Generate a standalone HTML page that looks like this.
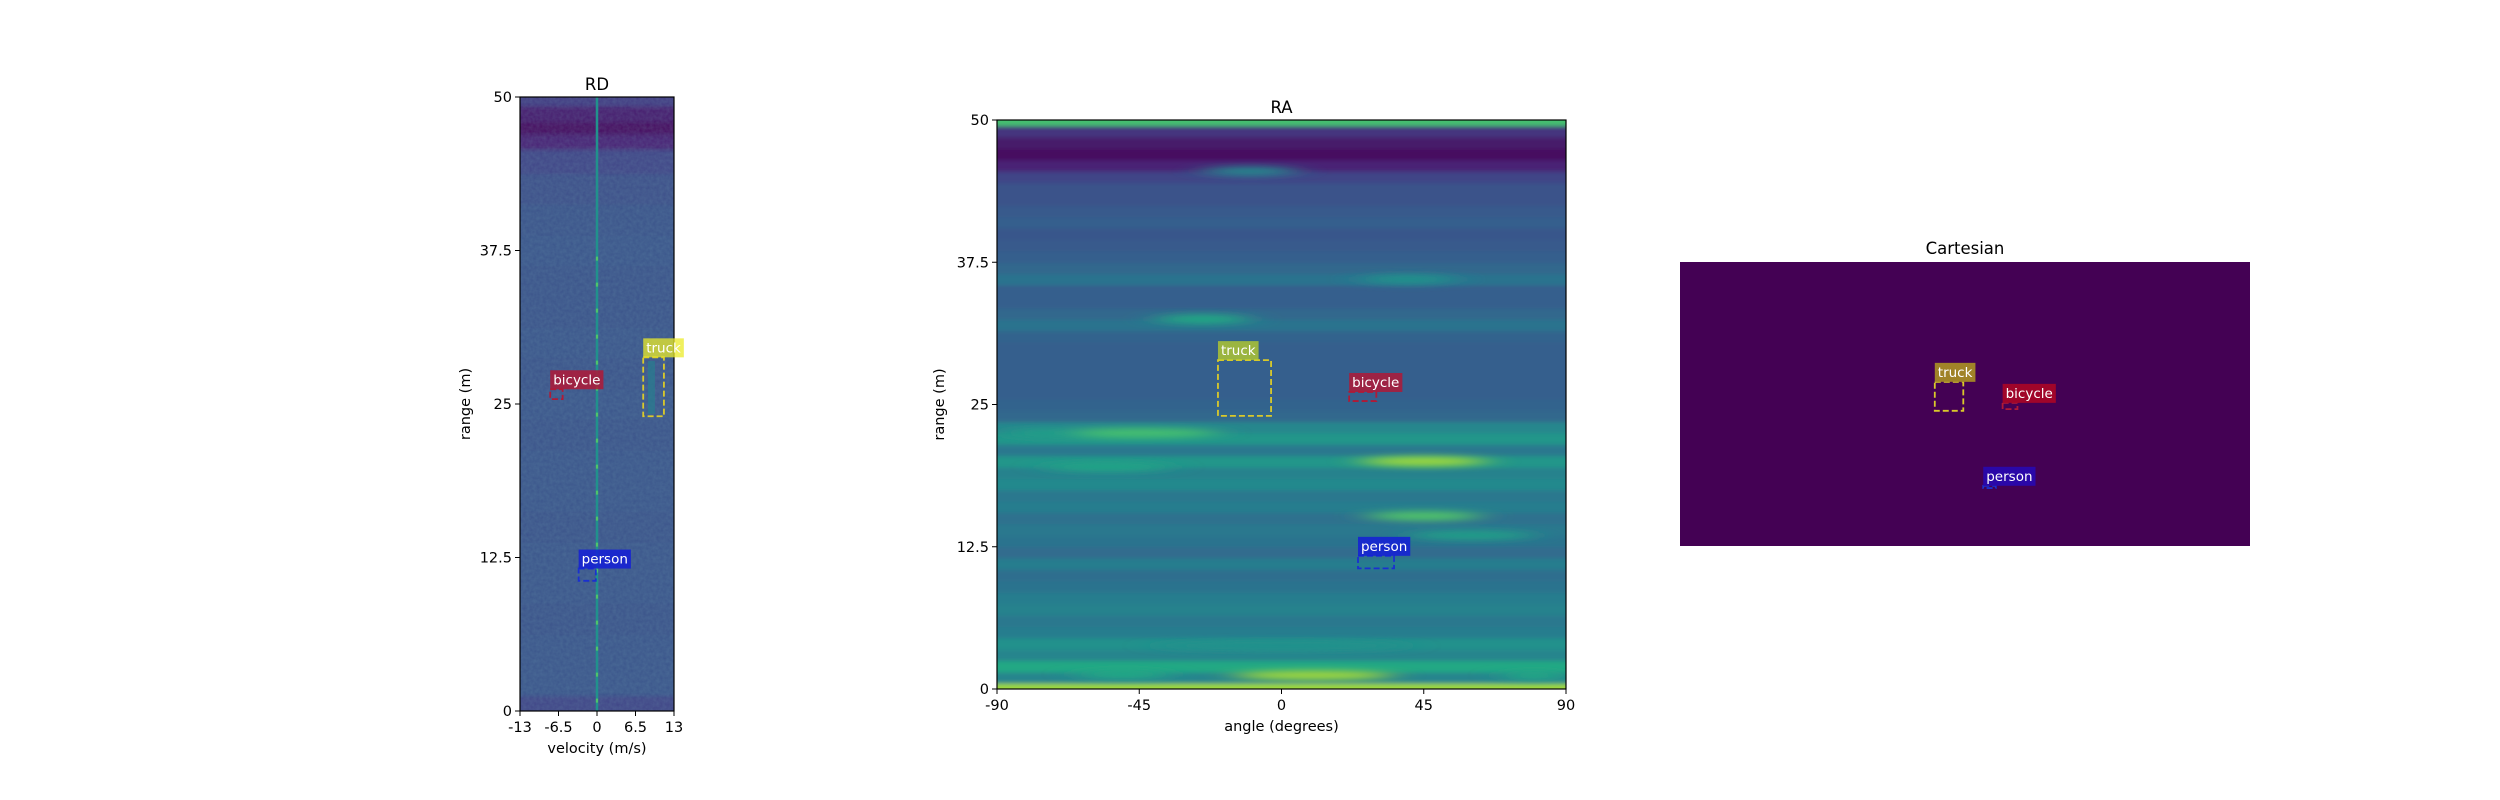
<!DOCTYPE html>
<html><head><meta charset="utf-8">
<style>
html,body{margin:0;padding:0;background:#fff;}
svg{display:block;font-family:"DejaVu Sans","Liberation Sans",sans-serif;}
</style></head>
<body>
<svg id="fig" width="2500" height="800" viewBox="0 0 2500 800" xmlns="http://www.w3.org/2000/svg">
<defs>
<filter id="blur" x="-50%" y="-200%" width="200%" height="500%"><feGaussianBlur stdDeviation="16 3.5"/></filter>
<filter id="vblur"><feGaussianBlur stdDeviation="0 2"/></filter>
<filter id="noise" x="0" y="0" width="100%" height="100%"><feTurbulence type="fractalNoise" baseFrequency="0.3" numOctaves="2" seed="3"/><feColorMatrix type="matrix" values="0 0 0 0 0.2  0 0 0 0 0.45  0 0 0 0 0.5  0 0 0 0.22 0"/></filter>
<clipPath id="clipRD"><rect x="520" y="97" width="154" height="614"/></clipPath>
<clipPath id="clipRA"><rect x="997" y="120" width="569" height="569"/></clipPath>
</defs>
<g id="root"></g>
</svg>
<script>
// ---------- data ----------
const rdRanges = [0,2.5,5,7.5,10,12.5,15,17.5,20,22.5,25,27.5,30,32.5,35,37.5,40,42.5,45,46.5,47.5,48.5,50];
const rdLevels = [0.2,0.26,0.26,0.25,0.26,0.26,0.25,0.26,0.26,0.25,0.26,0.25,0.26,0.25,0.25,0.26,0.25,0.24,0.2,0.1,0.04,0.08,0.17];
const rdVelTicks = [-13,-6.5,0,6.5,13];
const rangeTicks = [0,12.5,25,37.5,50];
const rangeTickLabels = ["0","12.5","25","37.5","50"];
const raProfile = [0.85,0.45,0.6,0.45,0.5,0.42,0.4,0.44,0.42,0.38,0.36,0.42,0.35,0.38,0.4,0.37,0.42,0.4,0.47,0.44,0.52,0.4,0.52,0.46,0.33,0.32,0.3,0.3,0.3,0.3,0.3,0.32,0.38,0.33,0.3,0.3,0.38,0.33,0.3,0.28,0.27,0.3,0.28,0.25,0.25,0.2,0.1,0.04,0.07,0.15,0.7];
const raBlobAngle = [45,-45,-25,45,40,10,-55,60,-10,-50,80,-75,0];
const raBlobRange = [20,22.5,32.5,15.2,36,1.2,19.5,13.5,45.5,1.3,1.2,22.5,3.8];
const raBlobWidth = [20,25,15,18,15,25,20,20,15,15,10,12,40];
const raBlobValue = [0.85,0.7,0.6,0.72,0.5,0.85,0.58,0.55,0.45,0.6,0.6,0.55,0.5];
const angleTicks = [-90,-45,0,45,90];
const labels = ["truck","bicycle","person"];
const rdBoxes = [[7.8,11.3,24.0,28.8],[-7.9,-5.8,25.4,26.2],[-3.1,-0.2,10.6,11.6]];
const raBoxes = [[-20.1,-3.3,24.0,28.9],[21.4,30,25.3,26.1],[24.2,35.6,10.6,11.7]];
const cartBoxes = [[-5.3,-0.3,23.8,28.9],[6.6,9.2,24.1,25.2],[3.2,5.4,10.2,10.6]];

// ---------- helpers ----------
const NS="http://www.w3.org/2000/svg";
const root=document.getElementById('root');
function el(tag,attrs,parent){const e=document.createElementNS(NS,tag);for(const k in attrs)e.setAttribute(k,attrs[k]);(parent||root).appendChild(e);return e;}
const vstops=[[68,1,84],[72,36,117],[65,68,135],[53,95,141],[42,120,142],[33,145,140],[34,168,132],[68,191,112],[122,209,81],[189,223,38],[253,231,37]];
function viridis(t){t=Math.max(0,Math.min(1,t))*10;const i=Math.min(9,Math.floor(t)),f=t-i;const a=vstops[i],b=vstops[i+1];return `rgb(${Math.round(a[0]+(b[0]-a[0])*f)},${Math.round(a[1]+(b[1]-a[1])*f)},${Math.round(a[2]+(b[2]-a[2])*f)})`;}
function lin(d0,d1,r0,r1){return v=>r0+(v-d0)/(d1-d0)*(r1-r0);}
const boxColors=["#d9c92a","#b01a36","#1a30d0"];
const rdLabelBg=["rgba(235,235,40,0.75)","rgba(175,25,55,0.85)","rgba(20,30,215,0.85)"];
const raLabelBg=["rgba(190,210,40,0.75)","rgba(175,25,55,0.85)","rgba(20,30,215,0.85)"];
const cartLabelBg=["#a08328","#a0052a","#2a08a8"];
const TICK=14.5, TITLE=16.5, LAB=13.5;

function txt(x,y,s,size,anchor,name,extra){const t=el('text',Object.assign({x:x,y:y,'font-size':size,'text-anchor':anchor||'middle',fill:'#000'},extra||{}));t.textContent=s;return t;}
function axesFrame(x0,y0,w,h,name){const r=el('rect',{x:x0,y:y0,width:w,height:h,fill:'none',stroke:'#000','stroke-width':1.2});}
function yAxis(x0,ys,name){rangeTicks.forEach((v,i)=>{const y=ys(v);const l=el('line',{x1:x0-5,x2:x0,y1:y,y2:y,stroke:'#000'});txt(x0-8,y+5,rangeTickLabels[i],TICK,'end',name+'-tick-label');});}
function xAxis(vals,xs,yb,name){vals.forEach(v=>{const x=xs(v);const l=el('line',{x1:x,x2:x,y1:yb,y2:yb+5,stroke:'#000'});txt(x,yb+21,String(v),TICK,'middle',name+'-tick-label');});}
function drawBoxes(boxes,xs,ys,bg,name){boxes.forEach((b,i)=>{const x=xs(b[0]),x2=xs(b[1]),yt=ys(b[3]),yb=ys(b[2]);
 const r=el('rect',{x:x,y:yt,width:Math.max(2,x2-x),height:Math.max(2,yb-yt),fill:'none',stroke:boxColors[i],'stroke-width':1.8,'stroke-dasharray':'6 3'});
 
 const lb=el('rect',{x:x,y:yt-19,width:10,height:19,fill:bg[i]});
 
 const t=txt(x+3,yt-5,labels[i],LAB,'start',name+'-label-'+labels[i],{fill:'#fff'});
 let w=labels[i].length*7.4;try{w=t.getComputedTextLength();}catch(e){}
 lb.setAttribute('width',w+6);});}

// ---------- RD ----------
(function(){
 const X0=520,X1=674,Y0=97,Y1=711;
 const xs=lin(-13,13,X0,X1), ys=lin(0,50,Y1,Y0);
 const g=el('g',{'clip-path':'url(#clipRD)'});
 const gb=el('g',{filter:'url(#vblur)'},g);
 for(let i=0;i<rdRanges.length;i++){
  const lo=i===0?rdRanges[0]-1:(rdRanges[i-1]+rdRanges[i])/2;
  const hi=i===rdRanges.length-1?rdRanges[i]+1:(rdRanges[i]+rdRanges[i+1])/2;
  const r=el('rect',{x:X0,y:ys(hi),width:X1-X0,height:ys(lo)-ys(hi)+0.5,fill:viridis(rdLevels[i])},gb);
  
 }
 const n=el('rect',{x:X0,y:Y0,width:X1-X0,height:Y1-Y0,filter:'url(#noise)'},g);
 const zl=el('line',{x1:xs(0),x2:xs(0),y1:ys(50),y2:Y1,stroke:viridis(0.5),'stroke-width':2.5},g);
 const zl2=el('line',{x1:xs(0),x2:xs(0),y1:ys(37),y2:Y1,stroke:viridis(0.72),'stroke-width':2.2,'stroke-dasharray':'4 22'},g);
 const tr=el('rect',{x:xs(8.6),y:ys(28.5),width:7,height:ys(24.2)-ys(28.5),fill:viridis(0.42),opacity:0.7},g);
 axesFrame(X0,Y0,X1-X0,Y1-Y0,'rd-axes');
 yAxis(X0,ys,'rd-y');xAxis(rdVelTicks,xs,Y1,'rd-x');
 txt((X0+X1)/2,Y0-7,'RD',TITLE,'middle','rd-title');
 txt((X0+X1)/2,Y1+42,'velocity (m/s)',TICK,'middle','rd-x-title');
 txt(0,0,'range (m)',TICK,'middle','rd-y-title',{transform:`translate(470,${(Y0+Y1)/2}) rotate(-90)`});
 drawBoxes(rdBoxes,xs,ys,rdLabelBg,'rd');
})();

// ---------- RA ----------
(function(){
 const X0=997,X1=1566,Y0=120,Y1=689;
 const xs=lin(-90,90,X0,X1), ys=lin(0,50,Y1,Y0);
 const g=el('g',{'clip-path':'url(#clipRA)'});
 const gb=el('g',{filter:'url(#vblur)'},g);
 raProfile.forEach((v,i)=>{const r=el('rect',{x:X0,y:ys(i+0.5),width:X1-X0,height:ys(i-0.5)-ys(i+0.5)+0.5,fill:viridis(v)},gb);
  });
 const gbl=el('g',{filter:'url(#blur)'},g);
 raBlobAngle.forEach((a,i)=>{const rx=(xs(raBlobWidth[i])-xs(0));const e=el('ellipse',{cx:xs(a),cy:ys(raBlobRange[i]),rx:rx,ry:5,fill:viridis(raBlobValue[i])},gbl);
  });
 axesFrame(X0,Y0,X1-X0,Y1-Y0,'ra-axes');
 yAxis(X0,ys,'ra-y');xAxis(angleTicks,xs,Y1,'ra-x');
 txt((X0+X1)/2,Y0-7,'RA',TITLE,'middle','ra-title');
 txt((X0+X1)/2,Y1+42,'angle (degrees)',TICK,'middle','ra-x-title');
 txt(0,0,'range (m)',TICK,'middle','ra-y-title',{transform:`translate(944,${(Y0+Y1)/2}) rotate(-90)`});
 drawBoxes(raBoxes,xs,ys,raLabelBg,'ra');
})();

// ---------- Cartesian ----------
(function(){
 const X0=1680,X1=2250,Y0=262,Y1=546;
 const xs=lin(-50,50,X0,X1), ys=lin(0,50,Y1,Y0);
 const bg=el('rect',{x:X0,y:Y0,width:X1-X0,height:Y1-Y0,fill:'#440154'});
 txt((X0+X1)/2,Y0-8,'Cartesian',TITLE,'middle','cartesian-title');
 drawBoxes(cartBoxes,xs,ys,cartLabelBg,'cartesian');
})();
</script>
</body></html>
